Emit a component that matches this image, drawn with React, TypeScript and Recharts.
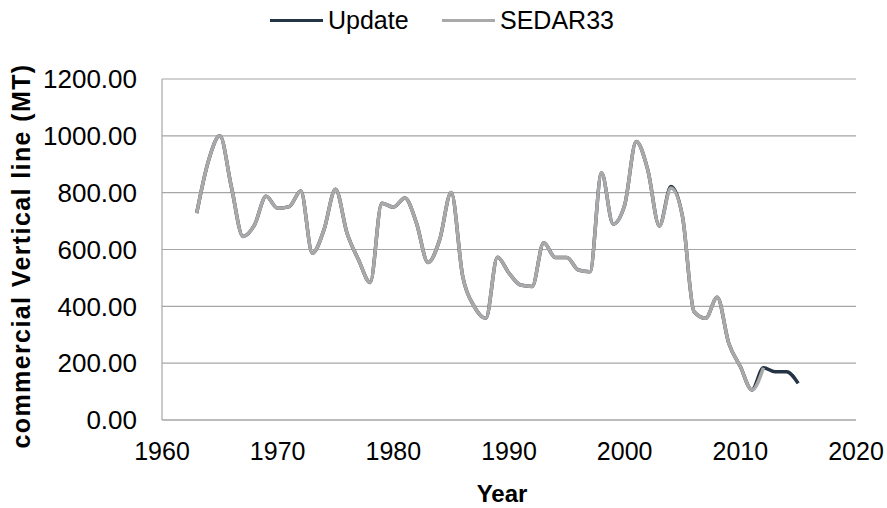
import { CartesianGrid, Line, LineChart, XAxis, YAxis } from 'recharts'

const years = [
    1963, 1964, 1965, 1966, 1967, 1968, 1969, 1970, 1971, 1972,
    1973, 1974, 1975, 1976, 1977, 1978, 1979, 1980, 1981, 1982,
    1983, 1984, 1985, 1986, 1987, 1988, 1989, 1990, 1991, 1992,
    1993, 1994, 1995, 1996, 1997, 1998, 1999, 2000, 2001, 2002,
    2003, 2004, 2005, 2006, 2007, 2008, 2009, 2010, 2011, 2012,
    2013, 2014, 2015
]

const updateValues = [
    728, 910, 1000, 820, 646, 687, 787, 745, 751, 806,
    587, 669, 812, 657, 563, 484, 763, 749, 781, 693,
    554, 634, 801, 505, 399, 358, 573, 517, 475, 470,
    624, 572, 572, 528, 522, 869, 690, 757, 980, 880,
    683, 822, 716, 381, 358, 432, 270, 188, 106, 184,
    170, 170, 129
]

const sedarValues: (number | null)[] = [
    728, 910, 1000, 820, 646, 687, 787, 745, 751, 806,
    587, 669, 812, 657, 563, 484, 763, 749, 781, 693,
    554, 634, 801, 505, 399, 358, 573, 517, 475, 470,
    624, 572, 572, 528, 522, 869, 690, 757, 980, 880,
    683, 816, 716, 381, 358, 432, 270, 188, 106, 184,
    null, null, null
]

const xTicks = [1960, 1970, 1980, 1990, 2000, 2010, 2020]
const yTicks = [0, 200, 400, 600, 800, 1000, 1200]

const DARK = '#243444'
const GREY = '#A9A9A9'
const AXIS = '#A6A6A6'
const FONT = '"Liberation Sans", Arial, sans-serif'

const data = years.map((year, i) => ({
    year,
    update: updateValues[i],
    sedar: sedarValues[i]
}))

function LegendItem({ color, label, left }: { color: string; label: string; left: number }) {
    return (
        <div style={{ position: 'absolute', left, top: 4, display: 'flex', alignItems: 'center', height: 32 }}>
            <div style={{ width: 53, height: 3, background: color }} />
            <span style={{ marginLeft: 5, fontSize: 25, color: '#000' }}>{label}</span>
        </div>
    )
}

export default function App() {
    return (
        <div
            style={{
                position: 'absolute',
                left: 0,
                top: 0,
                width: 887,
                height: 508,
                background: '#fff',
                fontFamily: FONT
            }}
        >
            <LegendItem color={DARK} label="Update" left={270} />
            <LegendItem color={GREY} label="SEDAR33" left={442} />
            <LineChart
                width={887}
                height={508}
                data={data}
                margin={{ top: 79, right: 31, bottom: 0, left: 0 }}
                style={{ fontFamily: FONT }}
            >
                <CartesianGrid horizontal vertical={false} stroke={AXIS} strokeWidth={1.2} />
                <XAxis
                    dataKey="year"
                    type="number"
                    domain={[1960, 2020]}
                    ticks={xTicks}
                    height={88}
                    tickLine={false}
                    tickMargin={16}
                    axisLine={{ stroke: AXIS, strokeWidth: 1.2 }}
                    tick={{ fill: '#000', fontSize: 25 }}
                    label={{
                        content: () => (
                            <text x={502} y={502} textAnchor="middle" fontSize={24} fontWeight="bold" fill="#000">
                                Year
                            </text>
                        )
                    }}
                />
                <YAxis
                    type="number"
                    domain={[0, 1200]}
                    ticks={yTicks}
                    width={162}
                    tickLine={false}
                    tickMargin={19}
                    axisLine={{ stroke: AXIS, strokeWidth: 1.2 }}
                    tick={{ fill: '#000', fontSize: 26 }}
                    tickFormatter={(v: number) => v.toFixed(2)}
                    label={{
                        content: () => (
                            <text
                                x={30}
                                y={256}
                                transform="rotate(-90 30 256)"
                                textAnchor="middle"
                                fontSize={25}
                                fontWeight="bold"
                                letterSpacing={1.4}
                                fill="#000"
                            >
                                commercial Vertical line (MT)
                            </text>
                        )
                    }}
                />
                <Line
                    type="monotone"
                    dataKey="update"
                    stroke={DARK}
                    strokeWidth={3.5}
                    dot={false}
                    isAnimationActive={false}
                />
                <Line
                    type="monotone"
                    dataKey="sedar"
                    stroke={GREY}
                    strokeWidth={3.5}
                    dot={false}
                    isAnimationActive={false}
                />
            </LineChart>
        </div>
    )
}
